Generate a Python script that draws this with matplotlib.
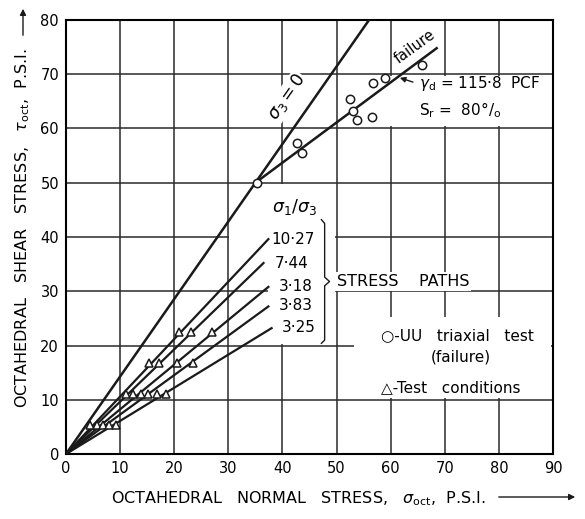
import matplotlib
matplotlib.use('Agg')
import matplotlib.pyplot as plt
from matplotlib.patches import Rectangle

plt.rcParams['font.family'] = ['DejaVu Sans']
plt.rcParams['mathtext.fontset'] = 'dejavusans'

# sigma3 = 0 line and failure envelope
sigma3_zero_x = [0, 56.0]
sigma3_zero_y = [0, 80.0]
failure_x = [35.0, 68.5]
failure_y = [50.0, 74.8]

# stress paths (from origin) for each sigma1/sigma3 ratio
path_labels = ['10·27', '7·44', '3·18', '3·83', '3·25']
path_end_x = [37.4, 36.5, 37.4, 37.4, 38.0]
path_end_y = [39.6, 35.2, 30.8, 27.2, 23.2]
label_x = [38.0, 38.6, 39.3, 39.3, 39.9]
label_y = [39.6, 35.1, 30.8, 27.3, 23.4]

# UU triaxial test at failure
uu_x = [35.3, 42.7, 43.6, 52.5, 53.0, 53.8, 56.6, 56.7, 59.0, 65.8]
uu_y = [50.0, 57.3, 55.5, 65.4, 63.2, 61.6, 62.1, 68.4, 69.3, 71.7]

# test conditions
tc_x = [4.5, 5.8, 6.9, 8.0, 9.2, 11.0, 12.4, 13.9, 15.2, 16.8, 18.4,
        15.4, 17.1, 20.5, 23.5, 20.9, 23.1, 27.0]
tc_y = [5.3, 5.3, 5.3, 5.3, 5.3, 11.0, 11.0, 11.0, 11.0, 11.0, 11.0,
        16.8, 16.8, 16.7, 16.7, 22.4, 22.4, 22.4]

fig = plt.figure(figsize=(5.85, 5.19), dpi=100)
ax = fig.add_axes([66/585, 65/519, 487/585, 434/519])
ax.set_xlim(0, 90)
ax.set_ylim(0, 80)
ax.set_xticks(range(0, 91, 10))
ax.set_yticks(range(0, 81, 10))
ax.tick_params(length=0, labelsize=10.5, pad=5)
ax.set_axisbelow(True)
ax.grid(True, color='#2a2a2a', lw=1.1)
for s in ax.spines.values():
    s.set_linewidth(1.5)

# blank areas behind the annotations
for (x0, y0, w, h) in [(30.2, 30.3, 19.5, 19.4), (37.3, 20.3, 12.4, 10.2),
                       (57.5, 60.4, 32.2, 9.2), (53.3, 10.4, 36.4, 14.8)]:
    ax.add_patch(Rectangle((x0, y0), w, h, facecolor='white', edgecolor='none', zorder=1))

ink = '#1a1a1a'
ax.plot(sigma3_zero_x, sigma3_zero_y, color=ink, lw=1.8, zorder=3)
ax.plot(failure_x, failure_y, color=ink, lw=1.8, zorder=3)
for ex, ey in zip(path_end_x, path_end_y):
    ax.plot([0, ex], [0, ey], color=ink, lw=1.6, zorder=3)

ax.plot(uu_x, uu_y, 'o', ms=6, mfc='white', mec=ink, mew=1.1, zorder=4)
ax.plot(tc_x, tc_y, '^', ms=6, mfc='white', mec=ink, mew=1.1, zorder=4)

for lab, lx, ly in zip(path_labels, label_x, label_y):
    ax.text(lx, ly, lab, fontsize=11, ha='left', va='center', zorder=5)
ax.text(42.2, 45.5, r'$\sigma_1/\sigma_3$', fontsize=12.5, ha='center', va='center', zorder=5)

# brace
ax.plot([47.2, 47.8, 47.8, 48.7, 47.8, 47.8, 47.2],
        [43.2, 42.5, 32.6, 31.8, 31.0, 21.0, 20.4], color=ink, lw=1, zorder=5)
ax.text(50.0, 31.8, 'STRESS    PATHS', fontsize=11.5, ha='left', va='center', zorder=5,
        bbox=dict(facecolor='white', edgecolor='none', pad=1.5))

ax.text(40.8, 65.8, r'$\sigma_3 = 0$', fontsize=12.5, rotation=55, ha='center', va='center',
        zorder=5, bbox=dict(facecolor='white', edgecolor='none', pad=0.5))
ax.text(64.5, 75.0, 'failure', fontsize=10.5, rotation=36, ha='center', va='center', zorder=5)

ax.annotate('', xy=(61.2, 69.5), xytext=(64.6, 68.4),
            arrowprops=dict(arrowstyle='-|>', color=ink, lw=1, mutation_scale=8), zorder=5)
ax.text(65.3, 68.3, r'$\gamma_\mathrm{d}$ = 115·8  PCF', fontsize=11, ha='left', va='center', zorder=5)
ax.text(65.3, 63.4, r'S$_\mathrm{r}$ =  80°/$_\mathrm{o}$', fontsize=11, ha='left', va='center', zorder=5)

ax.text(58.2, 21.8, '○-UU   triaxial   test', fontsize=11, ha='left', va='center', zorder=5)
ax.text(73.0, 17.9, '(failure)', fontsize=11, ha='center', va='center', zorder=5)
ax.text(58.2, 12.2, '△-Test   conditions', fontsize=11, ha='left', va='center', zorder=5)

# axis titles with arrows
fig.text(23/585, 1 - 228/519, r'OCTAHEDRAL   SHEAR   STRESS,   $\tau_{\mathrm{oct}}$,  P.S.I.',
         rotation=90, ha='center', va='center', fontsize=11.5)
fig.text(111/585, 1 - 499/519, r'OCTAHEDRAL   NORMAL   STRESS,   $\sigma_{\mathrm{oct}}$,  P.S.I.',
         ha='left', va='center', fontsize=11.5)
ax.annotate('', xy=(23/585, 1 - 6/519), xytext=(23/585, 1 - 38/519), xycoords='figure fraction',
            arrowprops=dict(arrowstyle='-|>', color=ink, lw=1, mutation_scale=9))
ax.annotate('', xy=(578/585, 1 - 497/519), xytext=(496/585, 1 - 497/519), xycoords='figure fraction',
            arrowprops=dict(arrowstyle='-|>', color=ink, lw=1, mutation_scale=9))

fig.savefig('out.png', dpi=100)
